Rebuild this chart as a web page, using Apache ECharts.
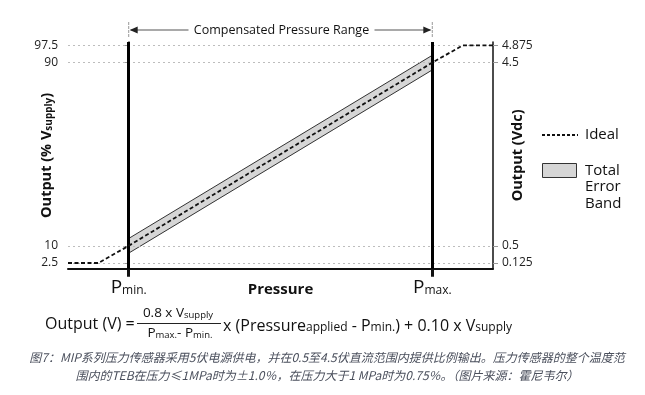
<!DOCTYPE html>
<html>
<head>
<meta charset="utf-8">
<script src="https://cdn.jsdelivr.net/npm/echarts@6/dist/echarts.min.js"></script>
<style>
html,body{margin:0;padding:0;background:#fff;}
#c{width:645px;height:395px;}
</style>
</head>
<body>
<div id="c"></div>
<script>
// ---- data ----
const idealX = [-20, -10, 0, 100, 110, 120];
const idealY = [2.5, 2.5, 10, 90, 97.5, 97.5];
const bandX = [0, 100];
const bandLow = [6.8, 86.8];
const bandHigh = [13.2, 93.2];
const leftTicks = [2.5, 10, 90, 97.5];
const rightTicks = [0.125, 0.5, 4.5, 4.875];
const pressureTicks = [0, 100];
const pressureSubs = ['min.', 'max.'];
const xMin = -20, xMax = 120, yMax = 99, vMax = 4.95;

const FONT = '"Open Sans", "Noto Sans", sans-serif';
const chart = echarts.init(document.getElementById('c'), null, {renderer: 'canvas'});

const option = {
  animation: false,
  backgroundColor: '#fff',
  textStyle: {fontFamily: FONT},
  grid: {left: 68, top: 42, width: 425, height: 226.7, containLabel: false},
  xAxis: {
    type: 'value', min: xMin, max: xMax,
    axisLine: {show: true, onZero: false, lineStyle: {color: '#111', width: 2}},
    axisTick: {show: true, customValues: pressureTicks, length: 8, inside: false, lineStyle: {color: '#111', width: 3}},
    axisLabel: {
      customValues: pressureTicks, margin: 6,
      formatter: function (v) { const i = pressureTicks.indexOf(v); return '{p|P}{s|' + pressureSubs[i] + '}'; },
      rich: {
        p: {fontSize: 19, color: '#111', fontFamily: FONT, lineHeight: 22, verticalAlign: 'bottom'},
        s: {fontSize: 12, color: '#111', fontFamily: FONT, lineHeight: 14, verticalAlign: 'bottom', padding: [3, 0, 0, 0]}
      }
    },
    splitLine: {show: false},
    name: 'Pressure', nameLocation: 'middle', nameGap: 14, nameMoveOverlap: false,
    nameTextStyle: {fontSize: 15, fontWeight: 'bold', color: '#111', fontFamily: FONT, verticalAlign: 'top'}
  },
  yAxis: [{
    type: 'value', min: 0, max: yMax, position: 'left',
    axisLine: {show: true, lineStyle: {color: '#111', width: 1.5}},
    axisTick: {show: true, customValues: leftTicks, length: 5, lineStyle: {color: '#999', width: 1}},
    axisLabel: {customValues: leftTicks, margin: 10, fontSize: 12, color: '#222', fontFamily: FONT},
    splitLine: {show: false},
    name: '{b|Output (% V}{s|supply}{b|)}', nameLocation: 'middle', nameGap: 14, nameRotate: 90, nameMoveOverlap: false,
    nameTextStyle: {
      rich: {
        b: {fontSize: 14.5, fontWeight: 'bold', color: '#111', fontFamily: FONT, lineHeight: 18, verticalAlign: 'bottom'},
        s: {fontSize: 10, fontWeight: 'bold', color: '#111', fontFamily: FONT, lineHeight: 12, verticalAlign: 'bottom', padding: [4, 0, 0, 0]}
      }
    }
  }, {
    type: 'value', min: 0, max: vMax, position: 'right',
    axisLine: {show: true, lineStyle: {color: '#111', width: 1.5}},
    axisTick: {show: true, customValues: rightTicks, length: 5, lineStyle: {color: '#999', width: 1}},
    axisLabel: {customValues: rightTicks, margin: 9, fontSize: 12, color: '#222', fontFamily: FONT},
    splitLine: {show: false},
    name: 'Output (Vdc)', nameLocation: 'middle', nameGap: 17, nameRotate: 90, nameMoveOverlap: false,
    nameTextStyle: {fontSize: 14.5, fontWeight: 'bold', color: '#111', fontFamily: FONT}
  }],
  series: [
    {
      name: 'grid', type: 'line', z: 1, silent: true, symbol: 'none',
      data: [[xMin, leftTicks[0]]],
      lineStyle: {opacity: 0},
      markLine: {
        silent: true, symbol: 'none', label: {show: false},
        lineStyle: {color: '#bdbdbd', type: [2, 3], width: 1},
        data: leftTicks.map(v => ({yAxis: v}))
      }
    },
    {
      name: 'Total Error Band', type: 'custom', z: 2, silent: true,
      data: bandX.map((x, i) => [x, bandLow[i], bandHigh[i]]),
      encode: {x: 0, y: [1, 2]},
      renderItem: function (params, api) {
        if (params.dataIndex !== 0) return null;
        const pts = [];
        for (let i = 0; i < bandX.length; i++) pts.push(api.coord([bandX[i], bandHigh[i]]));
        for (let i = bandX.length - 1; i >= 0; i--) pts.push(api.coord([bandX[i], bandLow[i]]));
        return {type: 'polygon', shape: {points: pts}, style: {fill: '#d6d6d6', stroke: '#333', lineWidth: 1}};
      }
    },
    {
      name: 'Ideal', type: 'line', z: 5, silent: true, symbol: 'none',
      data: idealX.map((x, i) => [x, idealY[i]]),
      lineStyle: {color: '#111', width: 1.8, type: [4, 2.5]}
    },
    {
      name: 'limits', type: 'line', z: 10, silent: true, symbol: 'none',
      data: [[xMin, leftTicks[0]]], lineStyle: {opacity: 0},
      markLine: {
        silent: true, symbol: 'none', label: {show: false},
        lineStyle: {color: '#000', type: 'solid', width: 3},
        data: pressureTicks.map(v => ({xAxis: v}))
      }
    }
  ]
};
chart.setOption(option);

// ---- annotations (positions derived from axes) ----
const p0 = chart.convertToPixel({xAxisIndex: 0}, pressureTicks[0]);
const p1 = chart.convertToPixel({xAxisIndex: 0}, pressureTicks[1]);
const mid = (p0 + p1) / 2 + 1;
const ay = 30;
const capFont = '"Noto Sans CJK SC", sans-serif';
const graphic = [
  {type: 'text', x: mid, y: ay, style: {text: 'Compensated Pressure Range', fontSize: 12.5, fontFamily: FONT, fill: '#111', align: 'center', verticalAlign: 'middle'}},
  {type: 'line', shape: {x1: p0 + 2, y1: ay, x2: mid - 93, y2: ay}, style: {stroke: '#555', lineWidth: 1.2}},
  {type: 'polygon', shape: {points: [[p0 + 1, ay], [p0 + 9, ay - 3.5], [p0 + 9, ay + 3.5]]}, style: {fill: '#222'}},
  {type: 'line', shape: {x1: mid + 93, y1: ay, x2: p1 - 2, y2: ay}, style: {stroke: '#555', lineWidth: 1.2}},
  {type: 'polygon', shape: {points: [[p1 - 1, ay], [p1 - 9, ay - 3.5], [p1 - 9, ay + 3.5]]}, style: {fill: '#222'}},
  {type: 'line', shape: {x1: p0, y1: 22, x2: p0, y2: 38}, style: {stroke: '#999', lineWidth: 1, lineDash: [3, 1]}},
  {type: 'line', shape: {x1: p1, y1: 22, x2: p1, y2: 38}, style: {stroke: '#999', lineWidth: 1, lineDash: [3, 1]}},
  // legend
  {type: 'line', shape: {x1: 542, y1: 135, x2: 578, y2: 135}, style: {stroke: '#111', lineWidth: 1.8, lineDash: [3, 2]}},
  {type: 'text', x: 585, y: 135, style: {text: 'Ideal', fontSize: 15, fontFamily: FONT, fill: '#111', verticalAlign: 'middle'}},
  {type: 'rect', shape: {x: 542.5, y: 163.5, width: 34, height: 14}, style: {fill: '#d6d6d6', stroke: '#333', lineWidth: 1}},
  {type: 'text', x: 585, y: 162, style: {text: 'Total\nError\nBand', fontSize: 15, lineHeight: 16.5, fontFamily: FONT, fill: '#111', verticalAlign: 'top'}},
  // formula
  {type: 'text', x: 45, y: 324, style: {text: 'Output (V) =', fontSize: 16, fontFamily: FONT, fill: '#111', verticalAlign: 'middle'}},
  {type: 'text', x: 178, y: 313, style: {text: '{a|0.8 x V}{s|supply}', align: 'center', verticalAlign: 'middle',
    rich: {a: {fontSize: 13.5, fontFamily: FONT, fill: '#111', lineHeight: 15, verticalAlign: 'bottom'}, s: {fontSize: 9.5, fontFamily: FONT, fill: '#111', lineHeight: 10, verticalAlign: 'bottom', padding: [2, 0, 0, 0]}}}},
  {type: 'line', shape: {x1: 137, y1: 323.5, x2: 221, y2: 323.5}, style: {stroke: '#222', lineWidth: 1}},
  {type: 'text', x: 180, y: 333, style: {text: '{a|P}{s|max.}{a|- P}{s|min.}', align: 'center', verticalAlign: 'middle',
    rich: {a: {fontSize: 13.5, fontFamily: FONT, fill: '#111', lineHeight: 15, verticalAlign: 'bottom'}, s: {fontSize: 9.5, fontFamily: FONT, fill: '#111', lineHeight: 10, verticalAlign: 'bottom', padding: [2, 0, 0, 0]}}}},
  {type: 'text', x: 223, y: 325, style: {text: '{a|x (Pressure}{s|applied}{a| - P}{s|min.}{a|) + 0.10 x V}{s|supply}', verticalAlign: 'middle',
    rich: {a: {fontSize: 16, fontFamily: FONT, fill: '#111', lineHeight: 18, verticalAlign: 'bottom'}, s: {fontSize: 12, fontFamily: FONT, fill: '#111', lineHeight: 13, verticalAlign: 'bottom', padding: [3, 0, 0, 0]}}}},
  // caption
  {type: 'text', x: 327, y: 357, style: {text: '图7：MIP系列压力传感器采用5伏电源供电，并在0.5至4.5伏直流范围内提供比例输出。压力传感器的整个温度范', fontSize: 12, fontStyle: 'italic', fontFamily: capFont, fill: '#4a4f5c', align: 'center', verticalAlign: 'middle'}},
  {type: 'text', x: 327, y: 375, style: {text: '围内的TEB在压力≤1MPa时为±1.0％，在压力大于1 MPa时为0.75％。（图片来源：霍尼韦尔）', fontSize: 12, fontStyle: 'italic', fontFamily: capFont, fill: '#4a4f5c', align: 'center', verticalAlign: 'middle'}}
];
chart.setOption({graphic: graphic});
</script>
</body>
</html>
